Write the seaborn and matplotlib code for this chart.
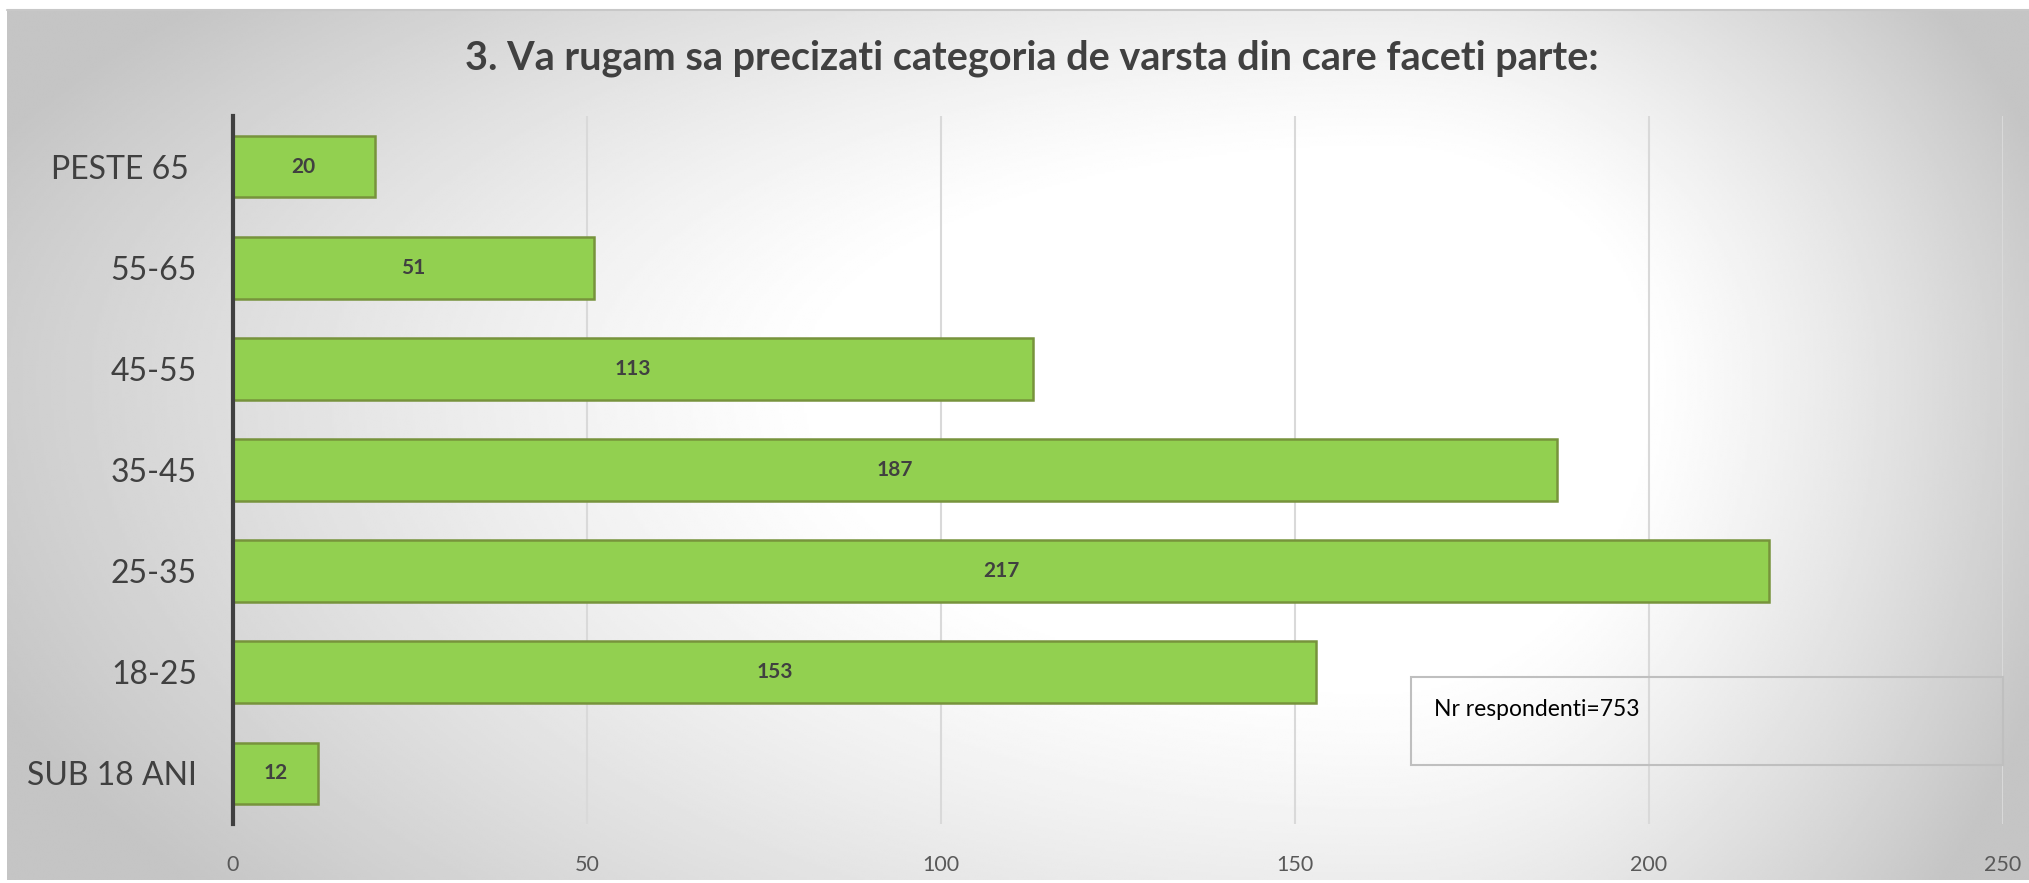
import numpy as np
import matplotlib
matplotlib.use("Agg")
import matplotlib.pyplot as plt
import seaborn as sns
from matplotlib.patches import Rectangle

# data, top to bottom as in the chart
categories = ["PESTE 65 ", "55-65", "45-55", "35-45", "25-35", "18-25", "SUB 18 ANI"]
counts = [20, 51, 113, 187, 217, 153, 12]
x_ticks = [0, 50, 100, 150, 200, 250]
title = "3. Va rugam sa precizati categoria de varsta din care faceti parte:"
note = "Nr respondenti=753"

sns.set_theme(style="white")
plt.rcParams["font.family"] = ["Lato", "DejaVu Sans"]

W, H = 2029, 883
fig = plt.figure(figsize=(W / 100, H / 100), dpi=100)
fig.patch.set_facecolor("white")

# radial gradient background panel (white centre, grey edges)
bg = fig.add_axes([7 / W, 3 / H, 1 - 7 / W, 1 - 13 / H], zorder=-10)
xs = np.linspace(0, 1, 800)
ys = np.linspace(0, 1, 400)
gx, gy = np.meshgrid(xs, ys)
cx, cy = 0.68, 0.58
dx = np.where(gx < cx, (gx - cx) / cx, (gx - cx) / (1 - cx))
dy = np.where(gy < cy, (gy - cy) / (cy * 1.5), (gy - cy) / ((1 - cy) * 1.5))
d = np.sqrt(dx ** 2 + dy ** 2)
shade = 1.0 - 0.23 * np.clip((d - 0.4) / 0.7, 0, 1) ** 1.2
bg.imshow(shade, cmap="gray", vmin=0, vmax=1, aspect="auto",
          extent=[0, 1, 0, 1], origin="lower", interpolation="bilinear")
bg.set_axis_off()
fig.add_artist(plt.Line2D([7 / W, 1], [1 - 10 / H, 1 - 10 / H],
                          transform=fig.transFigure, color="#c8c8c8", lw=1.5))

ax = fig.add_axes([233 / W, 59 / H, (2003 - 233) / W, (824 - 116) / H])
ax.patch.set_alpha(0)

sns.barplot(x=counts, y=categories, orient="h", ax=ax, color="#92D050",
            width=0.61, edgecolor="#77933C", linewidth=1.8, saturation=1)

for c in ax.containers:
    ax.bar_label(c, label_type="center", fontsize=15, fontweight="bold",
                 color="#404040")

ax.set_xlim(0, 250)
ax.set_ylim(6.5, -0.5)
ax.set_xticks(x_ticks)
ax.set_xticklabels([str(t) for t in x_ticks])
ax.xaxis.grid(True, color="#d9d9d9", lw=1.5)
ax.set_axisbelow(True)
for s in ["top", "right", "bottom"]:
    ax.spines[s].set_visible(False)
ax.spines["left"].set_color("#404040")
ax.spines["left"].set_linewidth(3)
ax.tick_params(axis="x", length=0, pad=22, labelsize=15.5, labelcolor="#595959")
ax.tick_params(axis="y", length=0, pad=26, labelsize=23, labelcolor="#404040")
ax.set_xlabel("")
ax.set_ylabel("")

fig.text(1032 / W, 1 - 58 / H, title, ha="center", va="center",
         fontsize=28.5, fontweight="bold", color="#404040")

# respondents note box
fig.add_artist(Rectangle((1411 / W, 1 - 765 / H), (2003 - 1411) / W, 88 / H,
                         transform=fig.transFigure, fill=False,
                         edgecolor="#bfbfbf", lw=1.5))
fig.text(1434 / W, 1 - 709 / H, note, ha="left", va="center",
         fontsize=16.5, color="black")

fig.savefig("out.png", dpi=100)
